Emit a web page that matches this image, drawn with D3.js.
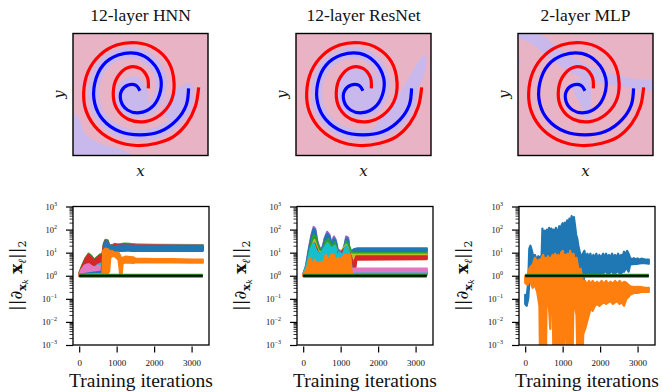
<!DOCTYPE html>
<html>
<head>
<meta charset="utf-8">
<script src="https://cdn.jsdelivr.net/npm/d3@7"></script>
<style>
body { margin: 0; background: #fff; }
text { font-family: "Liberation Serif", "DejaVu Serif", serif; fill: #111; }
</style>
</head>
<body>
<div id="container"></div>
<script>
// ---------- data ----------
const titles = ["12-layer HNN", "12-layer ResNet", "2-layer MLP"];

// spirals, in a 0..100 box (x right, y up)
const redSpiral = [[93.1,55.9],[90.6,40.1],[84.4,26.4],[74.4,15.5],[62.0,10.1],[47.1,8.2],[32.3,11.4],[18.6,21.0],[9.9,36.0],[7.9,51.0],[11.2,68.7],[19.9,82.3],[32.3,90.5],[47.1,92.4],[60.8,87.7],[70.7,76.8],[74.9,59.1],[72.5,44.1],[64.5,33.2],[53.3,27.8],[40.9,29.7],[32.3,38.7],[29.8,51.0],[32.8,64.0],[40.9,72.2],[49.6,71.4],[55.1,64.0],[55.8,55.0]];
const blueSpiral = [[85.6,55.0],[83.9,41.4],[76.9,29.2],[64.5,19.6],[49.6,16.9],[34.7,19.6],[22.3,29.2],[16.1,42.8],[16.1,59.1],[22.3,74.1],[33.5,82.3],[47.1,83.7],[58.3,76.8],[65.0,63.2],[64.0,49.6],[58.3,39.5],[49.1,35.1],[40.4,37.3],[35.5,44.7],[36.0,53.1],[40.9,57.8],[46.7,57.5],[49.6,53.1]];

// blue-class regions of each decision map
const hnnRegions = [
  [[0,34.6],[5,29.4],[8.7,18.3],[19.9,10.1],[32.3,6.0],[44.7,0],[0,0]],
  [[34.7,59.1],[47.1,64.6],[55.8,51.0],[52.1,37.3],[39.7,37.3],[33.5,45.5]],
  [[75.7,53.7],[88.1,57.8],[89.3,45.5],[84.4,33.2],[72.0,29.2],[67.0,37.3]]
];
const resRegions = [
  [[56.8,19.6],[69.0,37.3],[81.2,59.1],[93.4,80.9],[95.9,82.3],[95.9,70.0],[91.0,56.4],[81.2,37.3],[71.5,22.3],[61.7,15.5]],
  [[34.9,67.3],[49.5,72.8],[61.7,59.1],[59.3,42.8],[42.2,37.3],[32.4,48.2]]
];
const mlpRegions = [
  [[0,100],[14.7,100],[35.6,83.7],[60.2,70.0],[84.8,63.2],[100,60.5],[100,53.7],[79.9,56.4],[57.7,60.5],[40.5,67.3],[23.3,79.6],[9.8,91.8],[0,97.3]],
  [[40.5,59.1],[51.6,63.2],[54.1,45.5],[51.6,26.4],[46.7,40.1]],
  [[0,81],[1.8,78],[0.8,73],[0,72]]
];

// gradient norms: [iteration, low, high] envelopes of each noisy curve
const hnnGreen = [[0,1,1.3],[80,1,2.8],[160,1.2,5.5],[250,1.5,9],[320,1.5,7.5],[400,1.5,5],[480,1.5,6.5],[560,1.5,8.5],[620,1.5,8.5],[660,5,25],[700,10,36],[760,12,34],[800,12,22],[880,12,20],[950,12,24],[1050,12,22],[1200,13,25],[1350,13,24],[1500,13,22],[2000,13,21],[2500,13,21],[3000,13,20],[3300,13,20]];
const hnnGray = [[0,1,1.1],[600,1,2],[660,5,20],[720,12,30],[800,12,21],[900,12,22],[1100,12,23],[1400,13,23],[2000,13,22],[3300,13,21.5]];
const hnnRed = [[0,1,1.2],[80,1,2.5],[160,1.2,5],[250,1.5,8],[320,1.5,6.5],[400,1.5,4.5],[480,1.5,6],[560,1.5,7.5],[620,1.5,7.5],[660,5,22],[700,10,32],[760,12,30],[800,12,20],[880,12,19],[950,12,22],[1050,12,21],[1200,13,23],[1500,13,21],[3300,13,19]];
const hnnCyan = [[0,1,1.1],[200,1,1.8],[400,1,2.2],[500,1,3],[600,1,3.5],[650,1,2]];
const hnnPink = [[0,1,1.1],[60,1,1.8],[150,1.1,2.8],[250,1.2,3.2],[330,1.2,2.6],[420,1.1,2.2],[500,1.2,2.8],[580,1.1,2.5],[640,1,2]];
const hnnBlue = [[0,1,1.1],[300,1,1.3],[600,1,1.5],[650,3,12],[700,12,30],[740,14,31],[780,11,22],[820,11,18],[870,12,20],[920,10,17],[980,12,19],[1050,12,20],[1150,12,20],[1300,13,21],[1400,12,20],[1600,12,19],[2000,12,19],[2400,12,19],[2800,12,18.5],[3300,12,18.5]];
const hnnOrange = [[0,1,1.1],[620,1,1.2],[640,1.2,12],[700,1.3,15],[770,1.3,14],[800,1.5,12],[830,6,11],[870,7,12],[950,7,10],[1050,5,10],[1100,1,7],[1130,1,5.5],[1160,3.5,6],[1250,3.8,6.8],[1350,3.7,6.5],[1450,3.6,6.2],[1500,3.8,5.5],[2000,3.8,5.2],[2500,3.8,5.2],[3000,3.7,5],[3300,3.7,5]];

const resPurple = [[0,1,1.1],[80,1,3],[150,1.5,15],[220,2,60],[280,3,130],[320,3,110],[380,2.5,30],[450,2,14],[520,2,18],[580,2.5,45],[640,3,80],[700,3,60],[760,2.5,25],[820,3,50],[870,2.5,35],[920,2,14],[980,2,12],[1050,2,12],[1100,2.5,20],[1150,3,50],[1200,3,45],[1240,2,12],[1300,1.3,10],[1350,1.2,1.6],[3300,1.2,1.6]];
const resBlue = [[0,1,1.1],[80,1,2.5],[150,1.5,12],[220,2,45],[280,3,105],[320,3,90],[380,2.5,25],[450,2,12],[520,2,15],[580,2.5,40],[640,3,65],[700,3,50],[760,2.5,20],[820,3,40],[870,2.5,30],[920,2,12],[980,2,10],[1050,2,10],[1100,2.5,18],[1150,3,40],[1200,3,35],[1240,3,12],[1300,9,12],[1350,10.5,14],[1450,11,15.5],[3300,11,15.5]];
const resGreen = [[0,1,1.1],[100,1,3],[200,1.5,20],[280,2,60],[330,2,50],[400,2,18],[500,2,10],[600,2,30],[680,2,40],[760,2,16],[840,2,28],[920,2,10],[1050,2,9],[1150,2,30],[1220,2,20],[1300,7.5,10],[1400,7.8,9.6],[3300,7.8,9.6]];
const resOlive = [[0,1,1.1],[120,1,3],[220,1.5,15],[300,2,35],[400,2,12],[520,2,9],[650,2,25],[760,2,12],[850,2,18],[950,2,8],[1150,2,22],[1250,2,9],[1320,6.8,8.3],[3300,6.8,8.3]];
const resRed = [[0,1,1.1],[120,1,2.5],[220,1.5,12],[300,2,25],[400,2,10],[520,2,8],[650,2,20],[760,2,10],[850,2,15],[950,2,8],[1150,2,18],[1250,2,9],[1300,1,5],[1340,1,2],[1380,1.5,5],[1420,5,7],[3300,5.3,6.9]];
const resCyan = [[0,1,1.1],[100,1,3],[200,1,15],[280,1.2,25],[350,1.2,12],[450,1.2,8],[550,1.2,15],[650,1.2,25],[750,1.2,15],[850,1.2,20],[900,1,8],[930,1,3],[960,1,10],[1050,1.2,8],[1150,1.2,20],[1250,1.2,8],[1300,1,1.5],[3300,1.1,1.4]];
const resPink = [[0,1,1.1],[300,1.1,2],[600,1.1,2.5],[1000,1.1,2],[1300,1.2,2],[1350,1.55,2.05],[3300,1.55,2.05]];
const resOrange = [[0,1,1.1],[100,1,2],[180,1,6],[230,1,3],[300,1,5],[380,1,3],[450,1,4],[550,1,4],[600,1,8],[680,1,5],[750,1,8],[820,1,8],[870,1,3],[920,1,6],[1000,1,5],[1100,1,8],[1150,1,8],[1200,1,8],[1250,1.5,8],[1280,1,2],[1300,1,1.2]];

const mlpBlue = [[0,0.06,0.15],[40,0.05,0.12],[80,0.1,0.5],[110,0.5,15],[140,1,20],[180,1.2,12],[220,1,6],[260,1.5,8],[300,1,5],[350,1.2,7],[400,1,6],[440,1.5,8],[460,2,110],[490,2,40],[520,3,90],[550,2,50],[580,2,100],[610,2,60],[640,1.5,120],[670,2,70],[700,3,110],[730,2,60],[760,2,100],[790,2,50],[820,2,120],[850,2,70],[880,1.5,90],[910,2,140],[940,3,80],[970,2,150],[1000,2,190],[1030,2,90],[1060,1,200],[1090,2,120],[1120,2,250],[1150,2,150],[1180,1.5,300],[1210,2,200],[1240,3,380],[1270,2,250],[1300,1.5,350],[1330,1,150],[1360,1,60],[1390,1,40],[1420,0.4,20],[1460,0.3,10],[1500,0.5,6],[1540,0.4,9],[1580,1,12],[1620,1.2,5],[1660,1,9],[1700,1,6],[1740,1.2,9],[1780,1.2,5],[1820,1,8],[1860,1,6],[1900,1.3,9],[1940,1.3,5],[1980,1,8],[2020,1.2,6],[2080,1.2,9],[2120,1.5,6],[2160,1.5,9],[2200,1.2,6],[2240,1.2,8],[2280,1.5,6],[2320,1.5,9],[2360,1.2,6],[2400,1.2,8],[2440,1.5,6],[2480,1.5,9],[2520,1.3,6],[2560,1.3,8],[2600,1.5,7],[2640,1.5,11],[2680,2,8],[2720,2,12],[2760,1.5,9],[2800,3,6],[2850,3.2,5],[2900,3.2,5.8],[2950,3.3,5],[3000,3.3,5.6],[3050,3.4,5],[3100,3.5,5.5],[3200,3.5,5],[3300,3.3,5]];
const mlpOrange = [[0,0.5,1],[60,0.4,0.9],[110,0.6,2],[150,0.5,2.5],[200,0.3,3],[260,0.4,6],[320,0.2,4],[380,0.05,5],[400,0.0001,3],[440,0.0001,6],[480,0.0001,8],[520,0.0001,4],[550,0.0001,6],[570,0.05,5],[610,0.1,7],[640,0.03,4],[670,0.005,6],[690,0.2,5],[730,0.1,8],[760,0.0001,5],[800,0.0001,9],[840,0.0001,6],[880,0.0001,8],[920,0.0001,5],[960,0.0001,10],[1000,0.0001,12],[1040,0.0001,7],[1070,0.05,8],[1100,0.02,5],[1130,0.0001,9],[1170,0.0001,6],[1200,0.0001,12],[1230,0.0001,8],[1260,0.0001,6],[1290,0.1,9],[1330,0.05,4],[1370,0.02,6],[1400,0.0001,3],[1440,0.0001,1.5],[1480,0.0001,2],[1520,0.0001,0.8],[1550,0.003,0.5],[1600,0.005,0.6],[1650,0.01,0.4],[1700,0.02,0.6],[1750,0.04,0.45],[1800,0.03,0.6],[1860,0.05,0.45],[1920,0.06,0.55],[1980,0.05,0.45],[2040,0.06,0.6],[2100,0.07,0.45],[2160,0.06,0.6],[2220,0.07,0.45],[2280,0.08,0.55],[2340,0.06,0.45],[2400,0.07,0.6],[2460,0.08,0.45],[2520,0.06,0.6],[2580,0.07,0.45],[2640,0.05,0.55],[2700,0.1,0.5],[2760,0.12,0.4],[2800,0.15,0.35],[2900,0.18,0.32],[3000,0.18,0.33],[3100,0.2,0.32],[3200,0.2,0.3],[3300,0.2,0.3]];

const identityLine = [[0,1],[3300,1]];
const xTicks = [0, 1000, 2000, 3000];
const yMajors = [1e-3, 1e-2, 1e-1, 1e0, 1e1, 1e2, 1e3];
const yExps = ["\u22123", "\u22122", "\u22121", "0", "1", "2", "3"];

const tab = {blue:"#1f77b4", orange:"#ff7f0e", green:"#2ca02c", red:"#d62728", purple:"#9467bd",
             brown:"#8c564b", pink:"#e377c2", gray:"#7f7f7f", olive:"#bcbd22", cyan:"#17becf"};

const panels = [
  { regions: hnnRegions, halo: true,
    series: [[hnnGreen,tab.green],[hnnGray,tab.gray],[hnnRed,tab.red],[hnnCyan,tab.cyan],[hnnPink,tab.pink],[hnnBlue,tab.blue],[hnnOrange,tab.orange]] },
  { regions: resRegions, halo: true,
    series: [[resPurple,tab.purple],[resBlue,tab.blue],[resGreen,tab.green],[resOlive,tab.olive],[resRed,tab.red],[resCyan,tab.cyan],[resPink,tab.pink],[resOrange,tab.orange]] },
  { regions: mlpRegions, halo: false,
    series: [[mlpBlue,tab.blue],[mlpOrange,tab.orange]] }
];

// ---------- layout ----------
const width = 662, height = 392;
const topLefts = [73, 296, 518], topY = 33.5, topW = 135, topH = 122;
const botLefts = [73, 297, 519], botT = 206.5, botB = 345, botW = 136;
const pink = "#e8b3c4", lavender = "#c8b8ec";

const svg = d3.select("#container")
  .append("svg")
    .attr("width", width)
    .attr("height", height);
const defs = svg.append("defs");

panels.forEach(function(p, i) {
  // ----- decision map -----
  const L = topLefts[i];
  const x = d3.scaleLinear().domain([0, 100]).range([L, L + topW]);
  const y = d3.scaleLinear().domain([0, 100]).range([topY + topH, topY]);
  defs.append("clipPath").attr("id", "ct" + i)
    .append("rect").attr("x", L).attr("y", topY).attr("width", topW).attr("height", topH);

  const g = svg.append("g").attr("clip-path", "url(#ct" + i + ")");
  g.append("rect").attr("x", L).attr("y", topY).attr("width", topW).attr("height", topH).attr("fill", pink);
  const poly = d3.line().x(d => x(d[0])).y(d => y(d[1])).curve(d3.curveCatmullRomClosed);
  g.selectAll("path.reg")
    .data(p.regions)
    .join("path")
      .attr("class", "reg")
      .attr("d", poly)
      .attr("fill", lavender);
  const curve = d3.line().x(d => x(d[0])).y(d => y(d[1])).curve(d3.curveCatmullRom);
  if (p.halo) {
    g.append("path").attr("d", curve(blueSpiral)).attr("fill", "none")
      .attr("stroke", lavender).attr("stroke-width", 11).attr("stroke-linejoin", "round").attr("stroke-linecap", "round");
  }
  g.append("path").attr("d", curve(redSpiral)).attr("fill", "none").attr("stroke", "#ff0000").attr("stroke-width", 3.2);
  g.append("path").attr("d", curve(blueSpiral)).attr("fill", "none").attr("stroke", "#0000ff").attr("stroke-width", 3.2);

  svg.append("rect").attr("x", L).attr("y", topY).attr("width", topW).attr("height", topH)
    .attr("fill", "none").attr("stroke", "#000").attr("stroke-width", 1.4);
  svg.append("text").attr("x", L + topW / 2).attr("y", 20.5).attr("text-anchor", "middle")
    .attr("font-size", 17.5).text(titles[i]);
  svg.append("text").attr("x", L + topW / 2).attr("y", 176).attr("text-anchor", "middle")
    .style("font-family", "DejaVu Serif").attr("font-size", 15).attr("font-style", "italic").text("x");
  svg.append("text").attr("transform", "translate(" + (L - 9) + "," + (topY + topH / 2) + ") rotate(-90)")
    .attr("text-anchor", "middle").style("font-family", "DejaVu Serif")
    .attr("font-size", 15).attr("font-style", "italic").text("y");

  // ----- gradient norms -----
  const BL = botLefts[i];
  const bx = d3.scaleLinear().domain([-165, 3465]).range([BL, BL + botW]);
  const by = d3.scaleLog().domain([1e-3, 1e3]).range([botB, botT]);
  defs.append("clipPath").attr("id", "cb" + i)
    .append("rect").attr("x", BL).attr("y", botT).attr("width", botW).attr("height", botB - botT);

  const area = d3.area().x(d => bx(d[0])).y0(d => by(d[1])).y1(d => by(d[2]));
  const gb = svg.append("g").attr("clip-path", "url(#cb" + i + ")");
  gb.selectAll("path.band")
    .data(p.series)
    .join("path")
      .attr("class", "band")
      .attr("d", d => area(d[0]))
      .attr("fill", d => d[1])
      .attr("stroke", d => d[1])
      .attr("stroke-width", 2.2)
      .attr("stroke-linejoin", "round");
  const line = d3.line().x(d => bx(d[0])).y(d => by(d[1]));
  gb.append("path").attr("d", line(identityLine)).attr("stroke", tab.green).attr("stroke-width", 3.8).attr("fill", "none");
  gb.append("path").attr("d", line(identityLine)).attr("stroke", "#000").attr("stroke-width", 1.8).attr("fill", "none");

  const minors = by.ticks().filter(v => yMajors.indexOf(v) < 0);
  svg.append("g").attr("transform", "translate(" + BL + ",0)")
    .call(d3.axisLeft(by).tickValues(minors).tickSize(3.5).tickFormat(""))
    .call(a => a.select(".domain").remove())
    .selectAll("line").attr("stroke-width", 0.8);
  svg.append("g").attr("transform", "translate(" + BL + ",0)")
    .call(d3.axisLeft(by).tickValues(yMajors).tickSize(7).tickFormat(""))
    .call(a => a.select(".domain").remove())
    .selectAll("line").attr("stroke-width", 1.2);
  yMajors.forEach(function(v, k) {
    const t = svg.append("text").attr("x", BL - 16).attr("y", by(v) + 3)
      .attr("text-anchor", "end").attr("font-size", 8.5).attr("fill", "#333");
    t.append("tspan").text("10");
    t.append("tspan").attr("dy", -3.6).attr("font-size", 6).text(yExps[k]);
  });

  const xa = svg.append("g").attr("transform", "translate(0," + (botB + 1.5) + ")")
    .call(d3.axisBottom(bx).tickValues(xTicks).tickSize(6).tickPadding(7).tickFormat(d3.format("d")));
  xa.select(".domain").remove();
  xa.selectAll("line").attr("stroke-width", 1.2);
  xa.selectAll("text").attr("font-size", 9).attr("fill", "#333");

  svg.append("rect").attr("x", BL).attr("y", botT).attr("width", botW).attr("height", botB - botT)
    .attr("fill", "none").attr("stroke", "#000").attr("stroke-width", 1.3);

  svg.append("text").attr("x", BL + botW / 2).attr("y", 387).attr("text-anchor", "middle")
    .attr("font-size", 19.5).text("Training iterations");

  const yl = svg.append("text").attr("transform", "translate(" + (BL - 51) + "," + ((botT + botB) / 2) + ") rotate(-90)")
    .attr("text-anchor", "middle").style("font-family", "DejaVu Serif").attr("font-size", 17);
  yl.append("tspan").text("||\u2202");
  yl.append("tspan").attr("dy", 3.5).attr("font-size", 11).attr("font-weight", "bold").text("x");
  yl.append("tspan").attr("dy", 2).attr("font-size", 8).attr("font-style", "italic").text("k");
  yl.append("tspan").attr("dy", -5.5).text(" ");
  yl.append("tspan").attr("font-weight", "bold").text("x");
  yl.append("tspan").attr("dy", 3.5).attr("font-size", 11).attr("font-style", "italic").text("\u2113");
  yl.append("tspan").attr("dy", -3.5).text("||");
  yl.append("tspan").attr("dy", 3.5).attr("font-size", 11).text("2");
});
</script>
</body>
</html>
